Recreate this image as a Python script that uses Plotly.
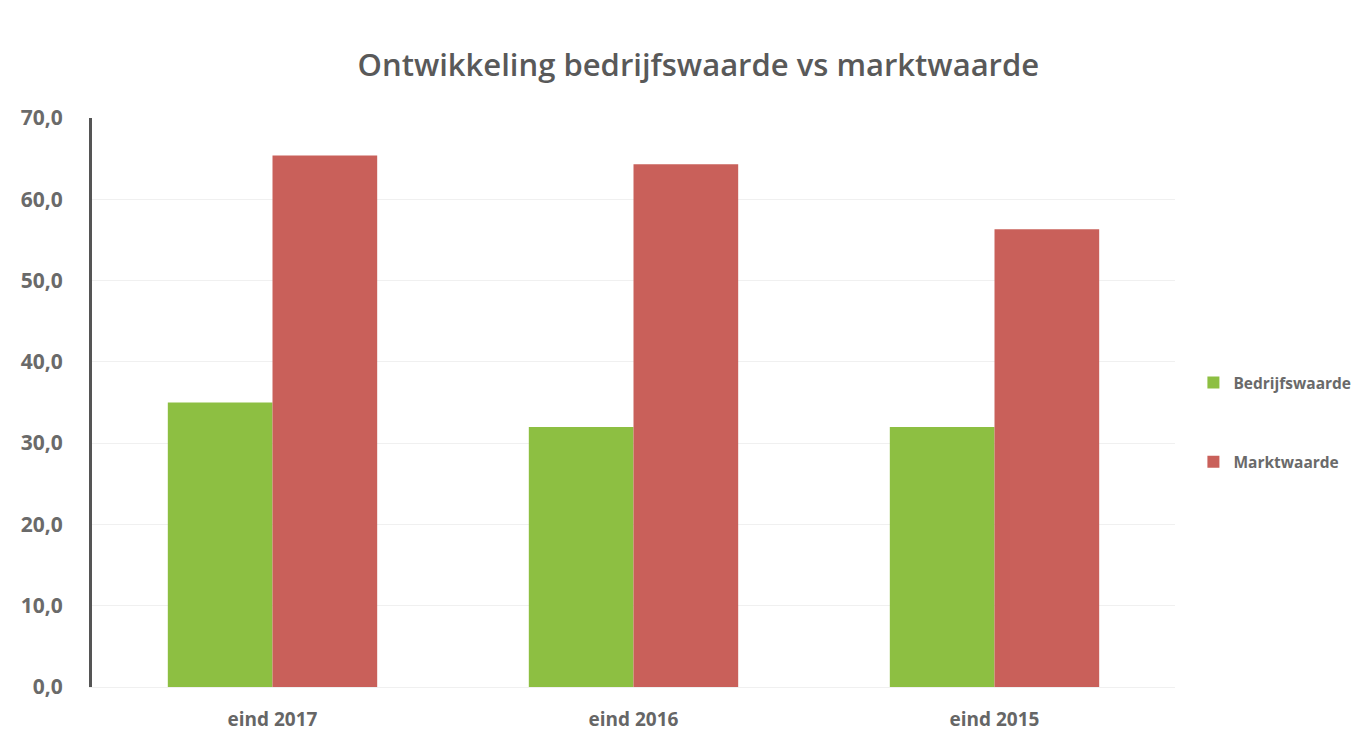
import plotly.graph_objects as go

categories = ["eind 2017", "eind 2016", "eind 2015"]
bedrijfswaarde = [35.0, 32.0, 32.0]
marktwaarde = [65.4, 64.3, 56.3]
y_ticks = [0, 10, 20, 30, 40, 50, 60, 70]

fig = go.Figure()
fig.add_trace(go.Bar(name="Bedrijfswaarde", x=categories, y=bedrijfswaarde,
                     marker=dict(color="#8DBF42", line=dict(width=0)),
                     legendgroup="a"))
fig.add_trace(go.Bar(name="Marktwaarde", x=categories, y=marktwaarde,
                     marker=dict(color="#C9605A", line=dict(width=0)),
                     legendgroup="b"))

fig.update_layout(
    width=1364, height=744,
    margin=dict(l=92, r=189, t=118, b=57, autoexpand=False),
    paper_bgcolor="white", plot_bgcolor="white",
    separators=",.",
    barmode="group", bargap=0.42, bargroupgap=0,
    title=dict(text="Ontwikkeling bedrijfswaarde vs marktwaarde",
               x=0.512, xanchor="center", y=0.913, yanchor="middle",
               font=dict(family="Open Sans", size=31, color="#595959", weight=600)),
    font=dict(family="Open Sans", color="#595959"),
    legend=dict(x=1.017, y=0.465, xanchor="left", yanchor="middle",
                font=dict(size=15.5, color="#6a6a6a", family="Open Sans", weight="bold"),
                tracegroupgap=56, itemwidth=30, bgcolor="rgba(0,0,0,0)"),
    showlegend=True,
)
fig.update_yaxes(range=[0, 70], tickvals=y_ticks, tickformat=".1f",
                 showgrid=True, gridcolor="#F0F0F0", gridwidth=1,
                 showline=True, linecolor="#555555", linewidth=3,
                 zeroline=False, ticks="", ticklabelstandoff=22,
                 tickfont=dict(size=21, color="#6a6a6a", family="Open Sans", weight="bold"))
fig.update_xaxes(showline=True, linecolor="#F0F0F0", linewidth=1, ticks="",
                 ticklabelstandoff=15,
                 tickfont=dict(size=19, color="#666666", family="Open Sans", weight="bold"))

fig.write_html("out.html")
